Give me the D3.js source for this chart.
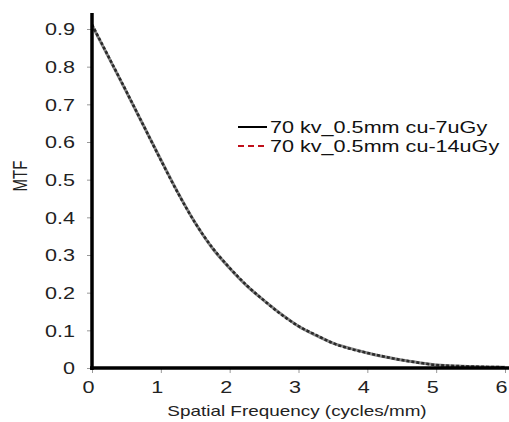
<!DOCTYPE html>
<html>
<head>
<meta charset="utf-8">
<script src="https://cdn.jsdelivr.net/npm/d3@7"></script>
<style>
  body { margin: 0; background: #fff; }
  svg { font-family: Arial, "Liberation Sans", sans-serif; }
</style>
</head>
<body>
<svg id="chart" width="509" height="422"></svg>
<script>
// readings
const freq = [0, 0.25, 0.5, 0.75, 1, 1.25, 1.5, 1.75, 2, 2.25, 2.5, 2.75, 3, 3.25, 3.5, 3.75, 4, 4.25, 4.5, 4.75, 5, 5.5, 6];
const mtf7 = [0.91, 0.822, 0.733, 0.643, 0.553, 0.465, 0.385, 0.318, 0.265, 0.218, 0.179, 0.143, 0.111, 0.087, 0.066, 0.052, 0.04, 0.03, 0.021, 0.014, 0.008, 0.004, 0.002];
const mtf14 = [0.912, 0.823, 0.734, 0.643, 0.552, 0.464, 0.385, 0.319, 0.266, 0.219, 0.179, 0.142, 0.111, 0.088, 0.066, 0.051, 0.04, 0.03, 0.021, 0.014, 0.008, 0.004, 0.002];
const xTicks = [0, 1, 2, 3, 4, 5, 6];
const yTicks = [0, 0.1, 0.2, 0.3, 0.4, 0.5, 0.6, 0.7, 0.8, 0.9];
const seriesNames = ["70 kv_0.5mm cu-7uGy", "70 kv_0.5mm cu-14uGy"];

const sx = 1.35; // the picture's text is stretched sideways
const svg = d3.select("#chart");
const width = 509;

const x = d3.scaleLinear().domain([0, 6]).range([92, 505]);
const y = d3.scaleLinear().domain([0, 0.9]).range([368, 29]);

// ticks
const xAxis = svg.append("g")
    .attr("transform", `translate(0,${y(0)})`)
    .call(d3.axisBottom(x).tickValues(xTicks).tickSize(5).tickSizeOuter(0).tickFormat(d3.format("d")));
const yAxis = svg.append("g")
    .attr("transform", `translate(${x(0)},0)`)
    .call(d3.axisLeft(y).tickValues(yTicks).tickSize(5).tickSizeOuter(0).tickFormat(d => d === 0 ? "0" : d3.format(".1f")(d)));

[xAxis, yAxis].forEach(a => {
    a.select(".domain").remove();
    a.selectAll(".tick line").attr("stroke", "#999").attr("stroke-width", 1);
    a.selectAll(".tick text").attr("fill", "#222").style("font-size", "16px");
});
xAxis.selectAll(".tick text").attr("x", -4 / sx).attr("y", 14).attr("dy", "0.71em")
    .attr("transform", `scale(${sx},1)`);
yAxis.selectAll(".tick text").attr("x", -17 / sx).attr("dy", "0.36em")
    .attr("transform", `scale(${sx},1)`);

// curves
const line = d3.line()
    .x((d, i) => x(freq[i]))
    .y(d => y(d))
    .curve(d3.curveMonotoneX);

svg.append("path")
    .attr("d", line(mtf7))
    .attr("fill", "none")
    .attr("stroke", "#888")
    .attr("stroke-width", 3);
svg.append("path")
    .attr("d", line(mtf14))
    .attr("fill", "none")
    .attr("stroke", "#2a2a2a")
    .attr("stroke-width", 2.6)
    .attr("stroke-dasharray", "3,2");

// axis lines
svg.append("line")
    .attr("x1", x(0)).attr("x2", x(0))
    .attr("y1", y(0) + 2).attr("y2", 13)
    .attr("stroke", "#000").attr("stroke-width", 3.5);
svg.append("line")
    .attr("x1", x(0) - 2).attr("x2", width)
    .attr("y1", y(0)).attr("y2", y(0))
    .attr("stroke", "#000").attr("stroke-width", 3.5);

// axis titles
svg.append("text")
    .attr("transform", `translate(297,416) scale(${sx},1)`)
    .attr("text-anchor", "middle")
    .style("font-size", "14px")
    .attr("fill", "#222")
    .text("Spatial Frequency (cycles/mm)");
svg.append("text")
    .attr("transform", `translate(27,176) scale(${sx},1) rotate(-90)`)
    .attr("text-anchor", "middle")
    .style("font-size", "15px")
    .attr("fill", "#222")
    .text("MTF");

// legend
const legend = svg.append("g").attr("transform", "translate(238,127)");
const styles = [
    { stroke: "#000", dash: null },
    { stroke: "#c0101a", dash: "6,4" }
];
seriesNames.forEach((name, i) => {
    const g = legend.append("g").attr("transform", `translate(0,${i * 19})`);
    g.append("line")
        .attr("x1", 0).attr("x2", 29)
        .attr("stroke", styles[i].stroke)
        .attr("stroke-width", 2)
        .attr("stroke-dasharray", styles[i].dash);
    g.append("text")
        .attr("transform", `translate(32,0) scale(${sx},1)`)
        .attr("dy", "0.36em")
        .style("font-size", "16px")
        .attr("fill", "#111")
        .text(name);
});
</script>
</body>
</html>
